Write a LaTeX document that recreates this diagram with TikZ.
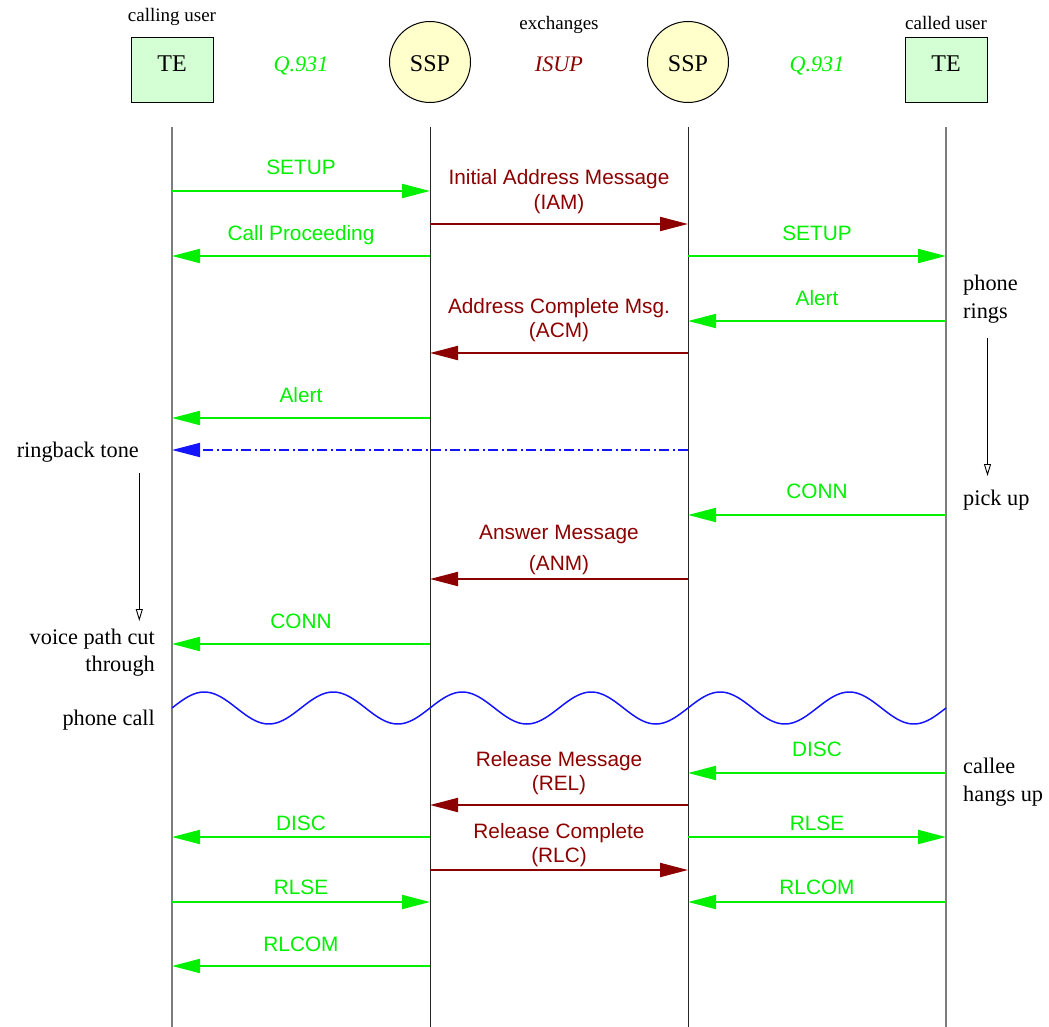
\documentclass[tikz,border=0pt]{standalone}
\usepackage{fontspec}
\setmainfont{Liberation Serif}
\setsansfont{Liberation Sans}
\usetikzlibrary{arrows.meta}
\definecolor{qgreen}{RGB}{0,240,0}
\definecolor{isupred}{RGB}{140,0,0}
\definecolor{tefill}{RGB}{212,255,212}
\definecolor{sspfill}{RGB}{255,255,204}
\definecolor{lifegray}{RGB}{125,125,125}
\definecolor{toneblue}{RGB}{20,20,255}
\begin{document}
\begin{tikzpicture}[x=1pt,y=-1pt,
  tebox/.style={draw=black, line width=1pt, fill=tefill, minimum width=82pt, minimum height=65pt, inner sep=0pt},
  sspbox/.style={draw=black, line width=1pt, fill=sspfill, circle, minimum size=81pt, inner sep=0pt},
  big/.style={font=\fontsize{24}{28}\selectfont, anchor=base, inner sep=0pt},
  proto/.style={font=\itshape\fontsize{22.2}{26}\selectfont, anchor=base, inner sep=0pt},
  small/.style={font=\fontsize{19}{22}\selectfont, anchor=base, inner sep=0pt},
  side/.style={font=\fontsize{22.3}{26}\selectfont, anchor=base, inner sep=0pt},
  lbl/.style={font=\sffamily\fontsize{20.8}{24}\selectfont, anchor=base, inner sep=0pt},
  glbl/.style={lbl, text=qgreen},
  rlbl/.style={lbl, text=isupred},
  outerlife/.style={draw=lifegray, line width=1.7pt},
  innerlife/.style={draw=black!85, line width=0.9pt},
  gmsg/.style={draw=qgreen, line width=2pt, -{Triangle[length=28pt,width=14pt]}},
  rmsg/.style={draw=isupred, line width=2pt, -{Triangle[length=28pt,width=14pt]}},
  bmsg/.style={draw=toneblue, line width=1.8pt, dash pattern=on 10pt off 3.5pt on 2pt off 3.5pt, -{Triangle[length=28pt,width=14pt]}},
  timearrow/.style={draw=black, line width=0.9pt, -{Triangle[open,length=12pt,width=7pt]}},
  wave/.style={draw=toneblue, line width=1.5pt}
]
\useasboundingbox (0,0) rectangle (1049,1027);

% header
\node[small] (cuser) at (172,22) {calling user};
\node[small] (exch) at (559,30) {exchanges};
\node[small] (duser) at (946,30) {called user};
\node[tebox] (teA) at (172,70.5) {};
\node[big] (teAt) at (172,72) {TE};
\node[sspbox] (sspB) at (430,62) {};
\node[big] (sspBt) at (430,72) {SSP};
\node[sspbox] (sspC) at (688,62) {};
\node[big] (sspCt) at (688,72) {SSP};
\node[tebox] (teD) at (946,70.5) {};
\node[big] (teDt) at (946,72) {TE};
\node[proto, text=qgreen] (q1) at (301,72) {Q.931};
\node[proto, text=isupred] (isup) at (559,72) {ISUP};
\node[proto, text=qgreen] (q2) at (817,72) {Q.931};

% lifelines
\coordinate (A) at (172,127); \coordinate (Ab) at (172,1027);
\coordinate (B) at (430,127); \coordinate (Bb) at (430,1027);
\coordinate (C) at (688,127); \coordinate (Cb) at (688,1027);
\coordinate (D) at (946,127); \coordinate (Db) at (946,1027);
\draw[outerlife] (A) -- (Ab);
\draw[innerlife] (B) -- (Bb);
\draw[innerlife] (C) -- (Cb);
\draw[outerlife] (D) -- (Db);

% rows
\foreach \r in {191,224,256,321,353,418,450,515,579,644,773,805,837,870,902,966}
  \coordinate (r\r) at (0,\r);

% messages
\draw[gmsg] (A |- r191) -- (B |- r191);
\node[glbl] (m1) at (301,175) {SETUP};

\draw[rmsg] (B |- r224) -- (C |- r224);
\node[rlbl] (m2a) at (559,185) {Initial Address Message};
\node[rlbl] (m2b) at (559,209.5) {(IAM)};

\draw[gmsg] (B |- r256) -- (A |- r256);
\node[glbl] (m3) at (301,240.5) {Call Proceeding};

\draw[gmsg] (C |- r256) -- (D |- r256);
\node[glbl] (m4) at (817,240.5) {SETUP};

\draw[gmsg] (D |- r321) -- (C |- r321);
\node[glbl] (m5) at (817,305.5) {Alert};

\draw[rmsg] (C |- r353) -- (B |- r353);
\node[rlbl] (m6a) at (559,313) {Address Complete Msg.};
\node[rlbl] (m6b) at (559,337) {(ACM)};

\draw[gmsg] (B |- r418) -- (A |- r418);
\node[glbl] (m7) at (301,402.5) {Alert};

\draw[bmsg] (C |- r450) -- (A |- r450);

\draw[gmsg] (D |- r515) -- (C |- r515);
\node[glbl] (m9) at (817,498.5) {CONN};

\draw[rmsg] (C |- r579) -- (B |- r579);
\node[rlbl] (m10a) at (559,539) {Answer Message};
\node[rlbl] (m10b) at (559,570) {(ANM)};

\draw[gmsg] (B |- r644) -- (A |- r644);
\node[glbl] (m11) at (301,628.5) {CONN};

% phone call
\draw[wave] plot[domain=172:946, samples=300, smooth] (\x, {708 - 16*sin((\x-172)*2.790698)});

\draw[gmsg] (D |- r773) -- (C |- r773);
\node[glbl] (m13) at (817,756.5) {DISC};

\draw[rmsg] (C |- r805) -- (B |- r805);
\node[rlbl] (m14a) at (559,766) {Release Message};
\node[rlbl] (m14b) at (559,790) {(REL)};

\draw[gmsg] (B |- r837) -- (A |- r837);
\node[glbl] (m15) at (301,830) {DISC};

\draw[gmsg] (C |- r837) -- (D |- r837);
\node[glbl] (m16) at (817,830) {RLSE};

\draw[rmsg] (B |- r870) -- (C |- r870);
\node[rlbl] (m17a) at (559,838.5) {Release Complete};
\node[rlbl] (m17b) at (559,862.5) {(RLC)};

\draw[gmsg] (A |- r902) -- (B |- r902);
\node[glbl] (m18) at (301,894) {RLSE};

\draw[gmsg] (D |- r902) -- (C |- r902);
\node[glbl] (m19) at (817,894) {RLCOM};

\draw[gmsg] (B |- r966) -- (A |- r966);
\node[glbl] (m20) at (301,951.5) {RLCOM};

% side annotations left
\node[side, anchor=base east] (ring) at (139,457) {ringback tone};
\node[side, anchor=base east] (voice1) at (155,644) {voice path cut};
\node[side, anchor=base east] (voice2) at (155,671.5) {through};
\node[side, anchor=base east] (pcall) at (155,725) {phone call};
\coordinate (la1) at (139.3,473);
\coordinate (la2) at (139.3,621);
\draw[timearrow] (la1) -- (la2);

% side annotations right
\node[side, anchor=base west] (rings1) at (963,290) {phone};
\node[side, anchor=base west] (rings2) at (963,318) {rings};
\node[side, anchor=base west] (pick) at (963,505.5) {pick up};
\node[side, anchor=base west] (hang1) at (963,773) {callee};
\node[side, anchor=base west] (hang2) at (963,801.5) {hangs up};
\coordinate (ra1) at (987.5,338);
\coordinate (ra2) at (987.5,476);
\draw[timearrow] (ra1) -- (ra2);
\end{tikzpicture}
\end{document}
